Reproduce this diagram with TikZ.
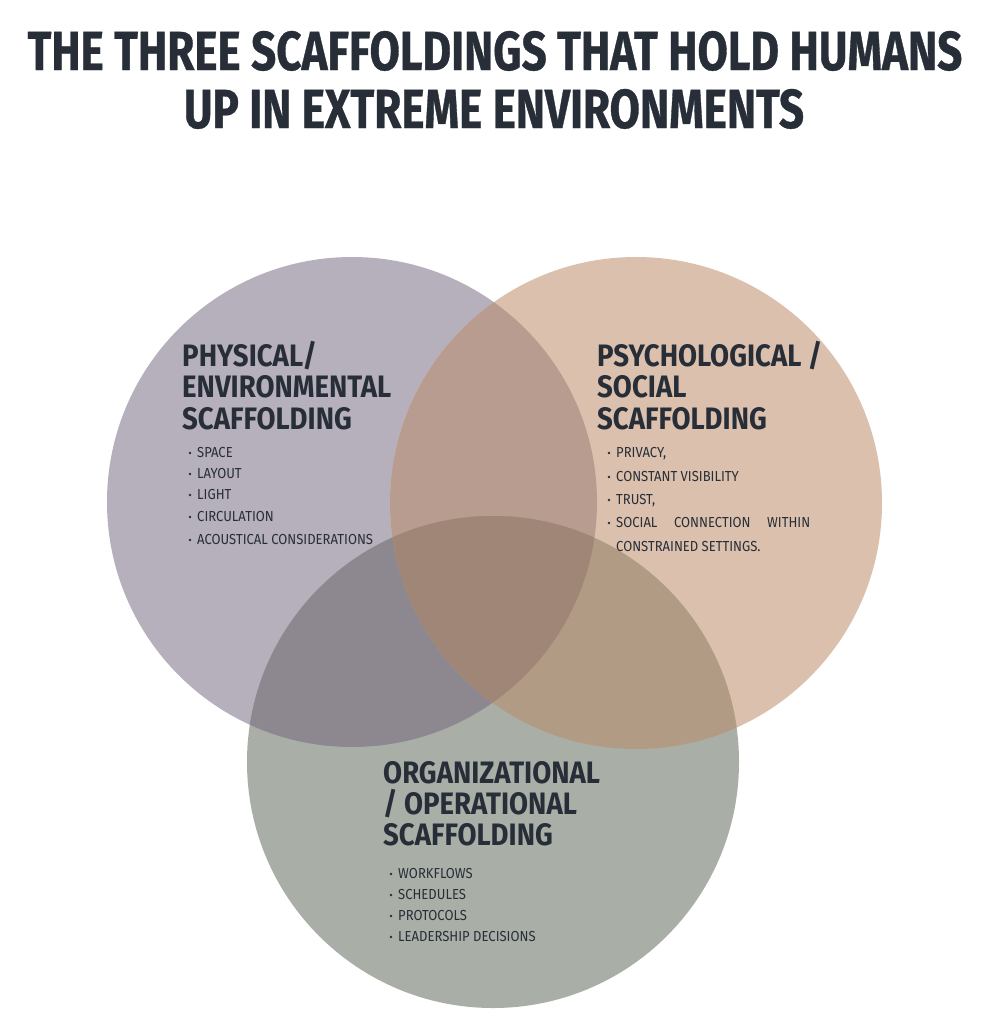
\documentclass[tikz,border=0pt]{standalone}
\usepackage{fontspec}
\newfontfamily\condfont[FakeStretch=0.90]{Fira Sans}
\newfontfamily\headfont[FakeStretch=0.89]{Fira Sans}
\newfontfamily\titlefont[FakeStretch=0.80,BoldFeatures={FakeBold=0.6}]{Fira Sans}
\definecolor{txt}{HTML}{272E38}
\definecolor{cA}{HTML}{B6AFBC}
\definecolor{cB}{HTML}{DBC0AD}
\definecolor{cC}{HTML}{A9AFA7}
\definecolor{cAB}{HTML}{B89C90}
\definecolor{cAC}{HTML}{8D8890}
\definecolor{cBC}{HTML}{B29B84}
\definecolor{cABC}{HTML}{A08676}
\tikzset{
  title/.style={anchor=base, inner sep=0pt, text=txt, font=\titlefont\bfseries\fontsize{55}{60}\selectfont},
  head/.style={anchor=base west, inner sep=0pt, text=txt, font=\headfont\bfseries\fontsize{31}{34}\selectfont},
  item/.style={anchor=base west, inner sep=0pt, text=txt, font=\condfont\fontsize{14.5}{16}\selectfont},
  dot/.style={circle, fill=txt, inner sep=0pt, minimum size=2.8pt}
}
\newcommand{\circA}{(352,502) circle[radius=245]}
\newcommand{\circB}{(636,503) circle[radius=246]}
\newcommand{\circC}{(493,762) circle[radius=246]}
\begin{document}
\begin{tikzpicture}[x=1pt,y=-1pt]
\useasboundingbox[fill=white] (0,0) rectangle (998,1034);
% circles
\fill[cA] \circA;
\fill[cB] \circB;
\fill[cC] \circC;
\begin{scope}\clip \circA; \fill[cAB] \circB; \end{scope}
\begin{scope}\clip \circA; \fill[cAC] \circC; \end{scope}
\begin{scope}\clip \circB; \fill[cBC] \circC; \end{scope}
\begin{scope}\clip \circA; \clip \circB; \fill[cABC] \circC; \end{scope}
% title
\node[title] (t1) at (495,70) {THE THREE SCAFFOLDINGS THAT HOLD HUMANS};
\node[title] (t2) at (494,128) {UP IN EXTREME ENVIRONMENTS};
% left
\node[head] (h1a) at (182,366) {PHYSICAL/};
\node[head] (h1b) at (182,397) {ENVIRONMENTAL};
\node[head] (h1c) at (182,429) {SCAFFOLDING};
\foreach \t/\y [count=\i] in {SPACE/457, LAYOUT/478, LIGHT/499, CIRCULATION/521, ACOUSTICAL CONSIDERATIONS/544}{
  \node[dot] (d1\i) at (190,\y-4) {};
  \node[item] (i1\i) at (197,\y) {\t};
}
% right
\node[head] (h2a) at (597,366) {PSYCHOLOGICAL /};
\node[head] (h2b) at (597,397) {SOCIAL};
\node[head] (h2c) at (597,429) {SCAFFOLDING};
\foreach \t/\y [count=\i] in {{PRIVACY,}/457, CONSTANT VISIBILITY/481, {TRUST,}/504, {\makebox[194pt][s]{SOCIAL\hfill CONNECTION\hfill WITHIN}}/527}{
  \node[dot] (d2\i) at (609,\y-4) {};
  \node[item] (i2\i) at (616,\y) {\t};
}
\node[item] (i25) at (616,551) {CONSTRAINED SETTINGS.};
% bottom
\node[head] (h3a) at (383,783) {ORGANIZATIONAL};
\node[head] (h3b) at (383,814) {/ OPERATIONAL};
\node[head] (h3c) at (383,845) {SCAFFOLDING};
\foreach \t/\y [count=\i] in {WORKFLOWS/878, SCHEDULES/899, PROTOCOLS/920, LEADERSHIP DECISIONS/941}{
  \node[dot] (d3\i) at (391,\y-4) {};
  \node[item] (i3\i) at (398,\y) {\t};
}
\end{tikzpicture}
\end{document}
